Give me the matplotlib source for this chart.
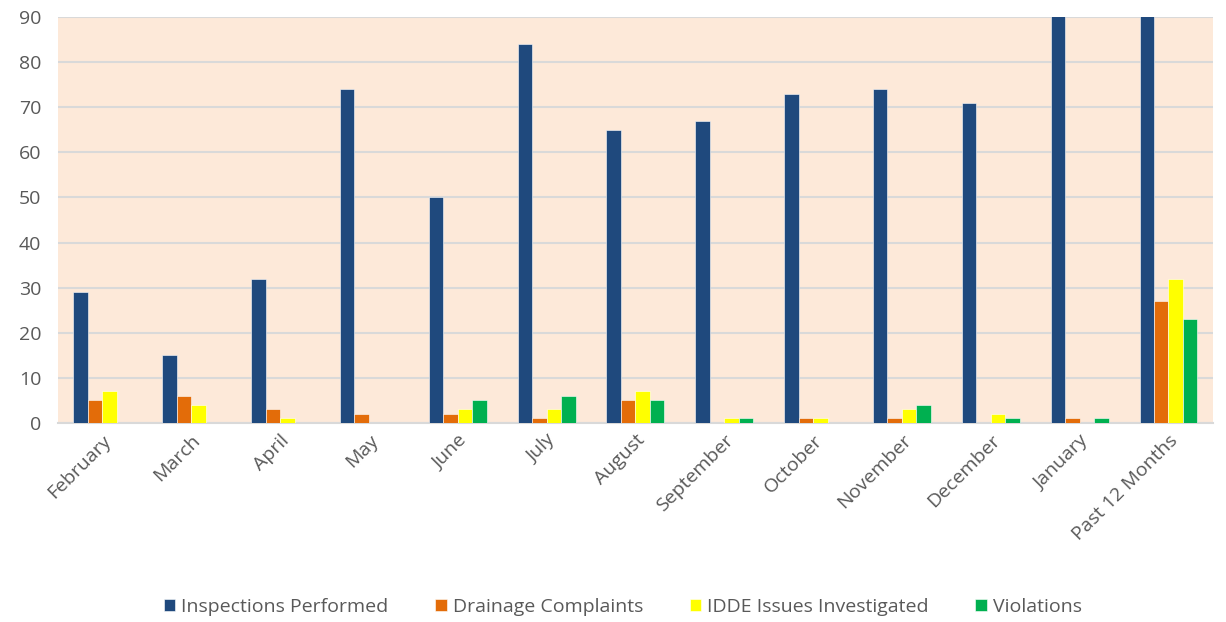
import matplotlib.pyplot as plt
import numpy as np

months = ['February', 'March', 'April', 'May', 'June', 'July', 'August',
          'September', 'October', 'November', 'December', 'January', 'Past 12 Months']
inspections = [29, 15, 32, 74, 50, 84, 65, 67, 73, 74, 71, 95, 809]
drainage = [5, 6, 3, 2, 2, 1, 5, 0, 1, 1, 0, 1, 27]
idde = [7, 4, 1, 0, 3, 3, 7, 1, 1, 3, 2, 0, 32]
violations = [0, 0, 0, 0, 5, 6, 5, 1, 0, 4, 1, 1, 23]

series = [('Inspections Performed', inspections, '#1F497D'),
          ('Drainage Complaints', drainage, '#E36C09'),
          ('IDDE Issues Investigated', idde, '#FFFF00'),
          ('Violations', violations, '#00B050')]

plt.rcParams['font.family'] = ['Open Sans', 'DejaVu Sans']
txt = '#595959'

fig = plt.figure(figsize=(12.26, 6.22), dpi=100)
ax = fig.add_axes([0.0473, 0.32, 0.942, 0.6527])
ax.set_facecolor('#FDE9D9')

x = np.arange(len(months))
w = 0.163
for i, (name, vals, col) in enumerate(series):
    ax.bar(x + (i - 1.5) * w, vals, w, color=col, label=name,
           edgecolor='white', linewidth=0.4, zorder=3)

ax.set_ylim(0, 90)
ax.set_xlim(-0.5, len(months) - 0.5)
ax.set_yticks(range(0, 91, 10))
ax.yaxis.grid(True, color='#D9D9D9', linewidth=1.5, zorder=0)
ax.set_axisbelow(True)
for s in ['left', 'right', 'top']:
    ax.spines[s].set_visible(False)
ax.spines['bottom'].set_color('#D9D9D9')
ax.spines['bottom'].set_linewidth(1.5)
ax.tick_params(axis='both', length=0, colors=txt, labelsize=14)
ax.tick_params(axis='y', pad=12)
ax.tick_params(axis='x', pad=6)
ax.set_xticks(x)
ax.set_xticklabels(months, rotation=45, ha='right', rotation_mode='anchor')

leg = fig.legend(loc='lower center', bbox_to_anchor=(0.508, -0.018), ncol=4, frameon=False,
                 fontsize=14, handlelength=0.6, handleheight=0.6, handletextpad=0.3,
                 columnspacing=2.4)
for t in leg.get_texts():
    t.set_color(txt)

fig.savefig('out.png', dpi=100)
